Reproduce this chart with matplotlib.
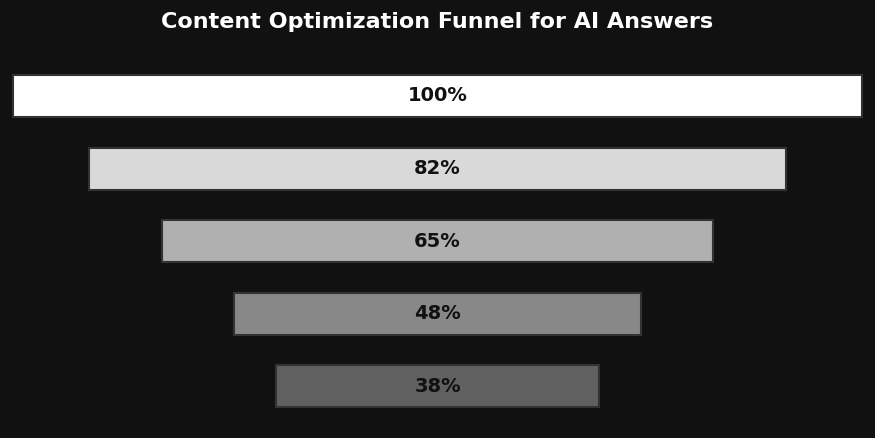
import matplotlib
matplotlib.use("Agg")
import matplotlib.pyplot as plt

stages = ["Stage 1", "Stage 2", "Stage 3", "Stage 4", "Stage 5"]
values = [100, 82, 65, 48, 38]
labels = ["100%", "82%", "65%", "48%", "38%"]
colors = ["#ffffff", "#d9d9d9", "#b0b0b0", "#888888", "#606060"]

fig = plt.figure(figsize=(8.75, 4.38), dpi=100, facecolor="#111111")
ax = fig.add_axes([0, 0, 1, 1])
ax.set_facecolor("#111111")
ys = list(range(len(values)))
ax.barh(ys, values, left=[-v / 2 for v in values], height=0.58,
        color=colors, edgecolor="#333333", linewidth=1.5)
for y, lab in zip(ys, labels):
    ax.text(0, y, lab, ha="center", va="center", fontsize=14,
            fontweight="bold", color="#111111")
ax.set_xlim(-437.5 / 8.49, 437.5 / 8.49)
ax.set_ylim(4.711, -1.322)
ax.axis("off")
fig.text(0.5, 1 - 22 / 438, "Content Optimization Funnel for AI Answers",
         ha="center", va="center", fontsize=16, fontweight="bold", color="white")
fig.savefig("out.png", dpi=100, facecolor=fig.get_facecolor())
